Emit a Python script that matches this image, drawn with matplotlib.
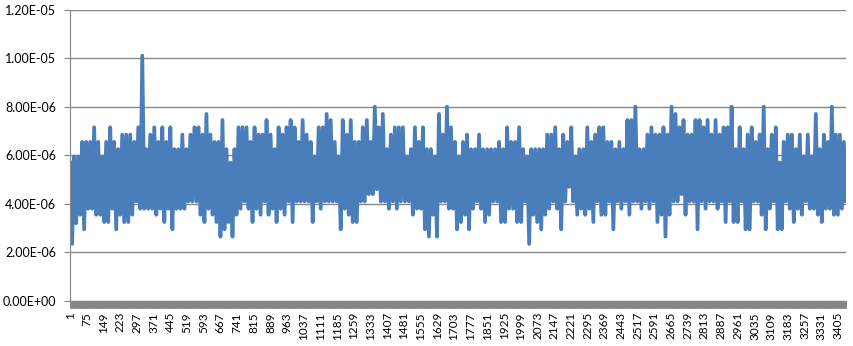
import numpy as np
import matplotlib.pyplot as plt
from matplotlib.ticker import FuncFormatter, FixedLocator

n_cat = 3440

# upper / lower envelope of the series, read per ~18 samples (units of 1e-6)
upper = [5.7, 5.95, 5.95, 6.55, 6.55, 6.55, 7.15, 6.55, 5.95, 6.55, 7.15, 6.55, 6.25, 6.85,
         6.85, 6.85, 6.55, 7.15, 10.1, 6.25, 6.85, 7.15, 6.55, 7.15, 6.55, 7.15, 6.25, 6.25,
         6.85, 6.25, 6.85, 7.15, 7.15, 6.85, 7.7, 6.85, 6.55, 6.55, 7.45, 6.25, 5.7, 6.25,
         7.15, 7.15, 7.15, 6.55, 7.15, 6.85, 6.85, 7.45, 6.85, 6.25, 7.15, 6.85, 7.15, 7.45,
         7.15, 6.55, 7.45, 6.85, 6.55, 5.95, 7.15, 7.15, 7.7, 7.45, 6.55, 5.95, 7.45, 6.85,
         7.45, 6.55, 6.55, 7.15, 7.45, 6.55, 8.0, 7.15, 7.7, 6.25, 6.85, 7.15, 7.15, 7.15,
         5.95, 6.25, 7.15, 6.55, 7.15, 6.25, 6.25, 5.95, 7.7, 6.85, 8.0, 7.15, 6.55, 5.95,
         6.55, 6.85, 6.25, 6.25, 6.85, 6.25, 6.25, 6.25, 6.25, 6.55, 6.25, 7.15, 6.55, 6.55,
         7.15, 6.25, 5.95, 6.25, 6.25, 6.25, 6.25, 6.85, 6.85, 7.15, 6.25, 6.85, 6.55, 7.15,
         5.95, 6.25, 6.25, 7.15, 6.55, 6.85, 7.15, 7.15, 6.55, 6.55, 6.25, 6.55, 6.25, 7.45,
         7.45, 8.0, 6.25, 6.25, 6.85, 7.15, 6.85, 6.85, 7.15, 6.85, 8.0, 7.7, 7.15, 7.45,
         6.85, 6.85, 7.45, 7.45, 7.15, 7.45, 6.85, 7.45, 6.85, 7.15, 7.15, 8.0, 6.25, 7.15,
         6.25, 6.85, 7.15, 6.55, 6.85, 8.0, 6.25, 6.85, 7.15, 5.7, 6.55, 6.85, 6.85, 6.25,
         6.85, 5.95, 6.85, 5.95, 7.7, 6.25, 6.85, 6.55, 8.0, 6.85, 6.85, 6.55]

lower = [2.35, 3.2, 3.55, 2.95, 3.8, 3.8, 3.55, 3.55, 3.25, 3.25, 3.8, 2.95, 3.55, 3.25,
         3.25, 3.55, 4.1, 3.8, 3.8, 3.8, 3.8, 3.55, 3.8, 3.25, 3.8, 2.95, 3.8, 3.8,
         3.8, 4.1, 4.1, 4.1, 3.55, 3.25, 3.8, 3.55, 3.25, 2.65, 2.95, 3.25, 2.65, 3.55,
         3.8, 4.1, 3.8, 3.25, 3.8, 3.55, 4.1, 3.55, 3.8, 3.25, 3.8, 3.55, 4.1, 3.25,
         4.1, 4.1, 4.1, 4.1, 3.25, 4.1, 3.8, 4.1, 4.1, 4.1, 4.1, 2.95, 3.8, 3.55,
         3.25, 3.25, 4.1, 4.1, 4.4, 4.4, 4.6, 4.1, 4.1, 3.8, 4.1, 3.8, 4.1, 4.1,
         4.1, 3.55, 3.8, 3.8, 2.95, 2.65, 3.55, 2.65, 4.1, 4.1, 3.8, 3.8, 2.95, 3.25,
         3.55, 2.95, 3.8, 4.1, 3.8, 3.25, 3.55, 4.1, 4.1, 3.25, 3.25, 3.8, 3.8, 3.25,
         3.25, 4.1, 2.35, 3.55, 3.25, 2.95, 3.55, 3.8, 4.1, 3.8, 2.95, 4.1, 4.7, 4.1,
         3.55, 3.8, 3.55, 3.8, 3.25, 4.1, 3.55, 3.55, 4.1, 2.95, 4.1, 3.8, 4.1, 3.55,
         4.1, 4.1, 3.8, 4.1, 3.8, 4.1, 3.25, 3.55, 2.65, 3.55, 4.1, 4.1, 4.4, 3.55,
         4.1, 4.1, 2.95, 4.1, 3.8, 4.1, 4.1, 3.8, 4.1, 3.25, 4.1, 3.25, 3.25, 4.1,
         2.95, 2.95, 4.1, 4.1, 3.55, 2.95, 3.8, 4.1, 2.95, 2.95, 4.1, 3.8, 3.25, 3.8,
         3.55, 4.1, 3.8, 3.8, 3.55, 3.25, 3.8, 3.8, 3.55, 3.55, 3.8, 4.1]

tick_cats = list(range(1, 3406, 74))
y_ticks = [0, 2e-6, 4e-6, 6e-6, 8e-6, 1e-5, 1.2e-5]

series = np.empty(len(upper) * 2)
series[0::2] = upper
series[1::2] = lower
series = series * 1e-6
xs = np.linspace(1, n_cat, len(series))

plt.rcParams['font.family'] = ['Lato', 'DejaVu Sans']
fig = plt.figure(figsize=(8.54, 3.46), dpi=100)
ax = fig.add_axes([70 / 854, 1 - 301 / 346, 776 / 854, 291.5 / 346])

ax.plot(xs, series, color='#4a7ebb', linewidth=2.7)

ax.set_ylim(0, 1.2e-5)
ax.set_xlim(0.5, n_cat + 0.5)
ax.set_yticks(y_ticks)
ax.yaxis.set_major_formatter(FuncFormatter(lambda v, p: '%.2E' % v))
ax.yaxis.grid(True, color='#868686', linewidth=1)
ax.set_axisbelow(True)

ax.set_xticks(tick_cats)
ax.set_xticklabels([str(c) for c in tick_cats], rotation=90)
ax.xaxis.set_minor_locator(FixedLocator(range(1, n_cat + 1)))

for s in ['top', 'right']:
    ax.spines[s].set_visible(False)
ax.spines['left'].set_color('#868686')
ax.spines['bottom'].set_color('#868686')

ax.tick_params(axis='y', length=4, color='#868686', labelsize=9, pad=6)
ax.tick_params(axis='x', which='both', length=5, width=0.6, color='#868686')
ax.tick_params(axis='x', labelsize=8.5, pad=3)

fig.savefig('out.png', dpi=100)
